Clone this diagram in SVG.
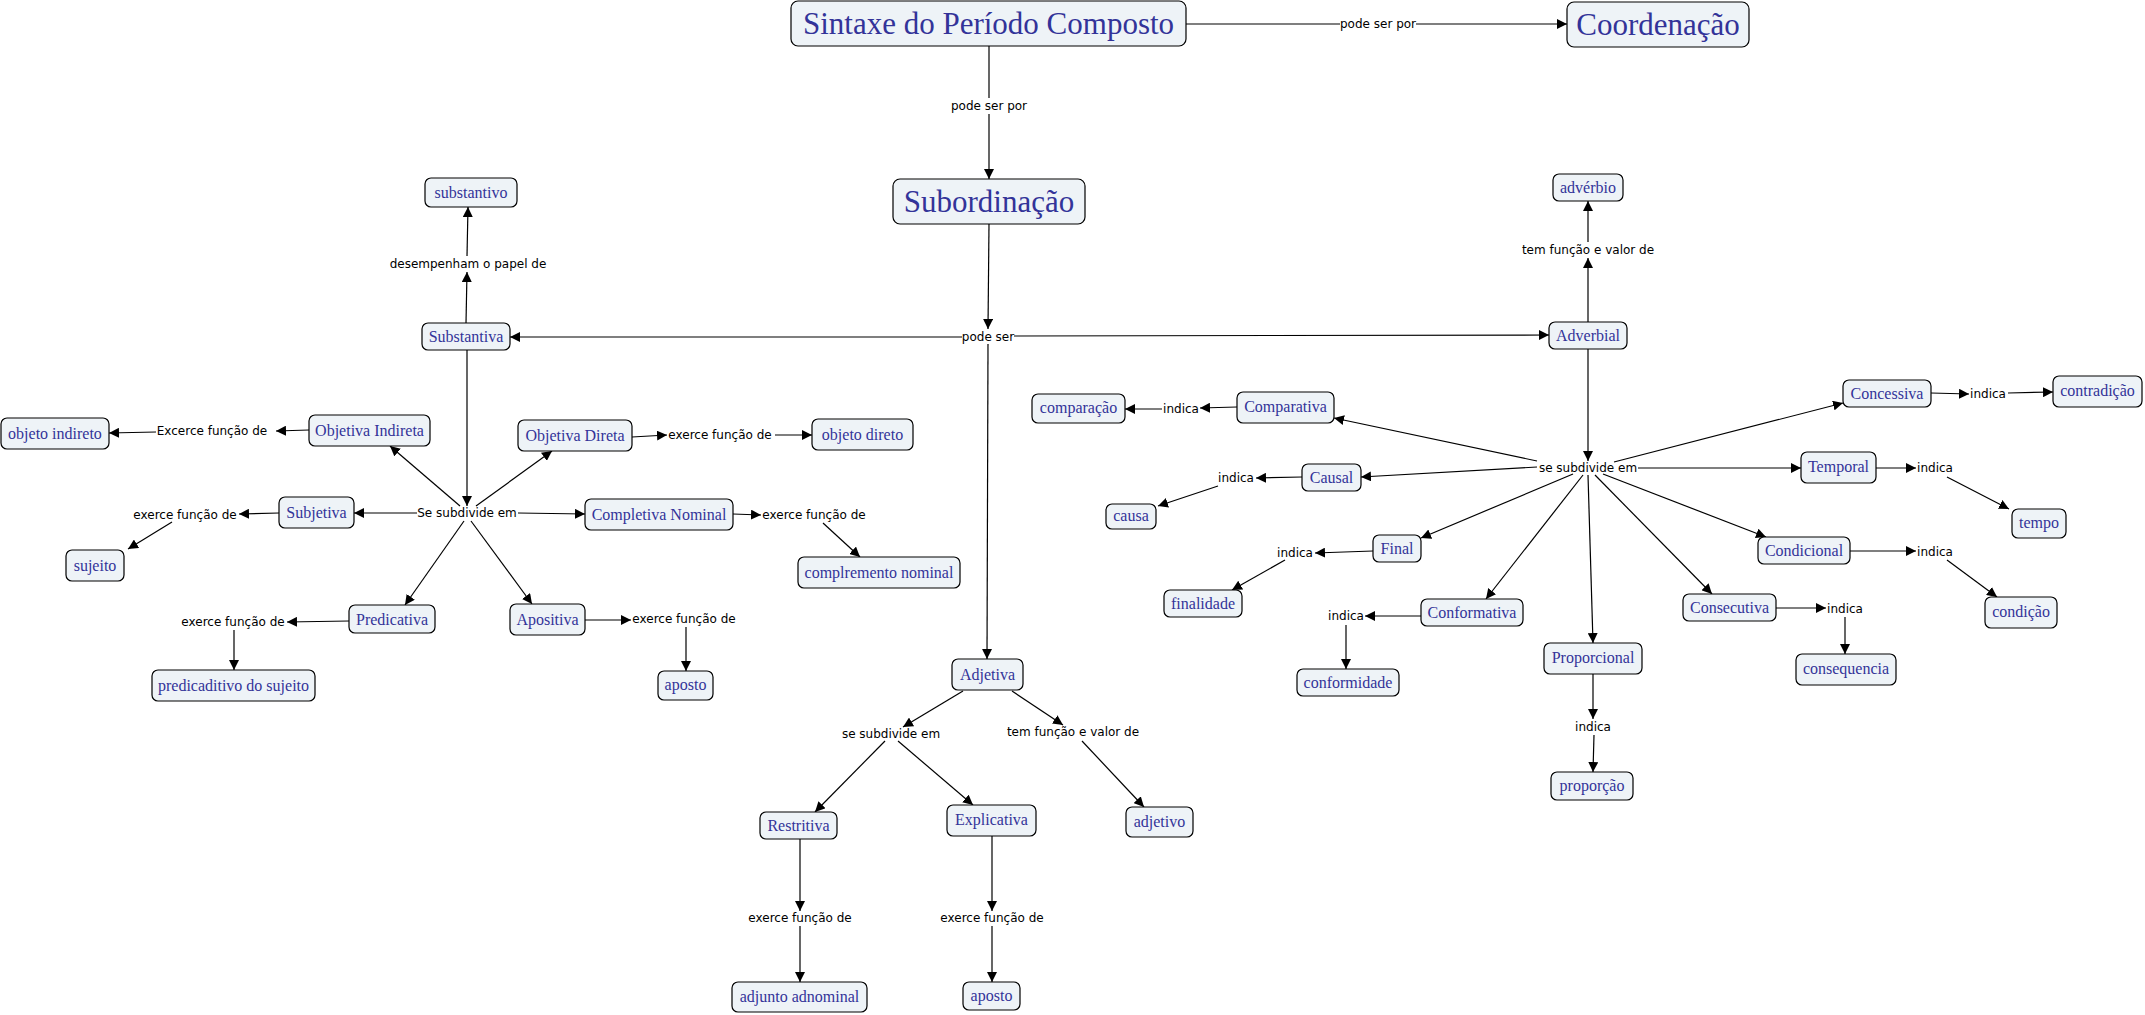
<svg xmlns="http://www.w3.org/2000/svg" width="2145" height="1015" viewBox="0 0 2145 1015">
<style>
.n rect{fill:#eef3f7;stroke:#000;stroke-width:1.2}
.n text{font-family:"Liberation Serif","Times New Roman",serif;font-size:16px;fill:#333399;text-anchor:middle}
.n.big text{font-size:31px}
.l{font-family:"DejaVu Sans",Verdana,sans-serif;font-size:12px;fill:#000;text-anchor:middle}
.c line{stroke:#000;stroke-width:1.2}
.c line.a{marker-end:url(#arr)}
</style>
<defs>
<marker id="arr" markerUnits="userSpaceOnUse" markerWidth="11" markerHeight="10" refX="10" refY="5" orient="auto">
<path d="M0,0 L10,5 L0,10 z" fill="#000"/>
</marker>
</defs>
<rect width="2145" height="1015" fill="#fff"/>
<g id="connectors" class="c">
<line x1="1186" y1="24" x2="1340" y2="24"/>
<line class="a" x1="1416" y1="24" x2="1567" y2="24"/>
<line x1="989" y1="46" x2="989" y2="98"/>
<line class="a" x1="989" y1="114" x2="989" y2="179"/>
<line class="a" x1="989" y1="224" x2="988" y2="329"/>
<line class="a" x1="962" y1="337" x2="510" y2="337"/>
<line class="a" x1="1014" y1="336" x2="1549" y2="335"/>
<line class="a" x1="988" y1="344" x2="987" y2="659"/>
<line class="a" x1="466" y1="323" x2="467" y2="272"/>
<line class="a" x1="467" y1="256" x2="468" y2="207"/>
<line class="a" x1="1588" y1="322" x2="1588" y2="258"/>
<line class="a" x1="1588" y1="242" x2="1588" y2="201"/>
<line class="a" x1="467" y1="350" x2="467" y2="506"/>
<line class="a" x1="460" y1="506" x2="390" y2="446"/>
<line class="a" x1="476" y1="506" x2="552" y2="451"/>
<line class="a" x1="417" y1="513" x2="354" y2="513"/>
<line class="a" x1="518" y1="513" x2="585" y2="514"/>
<line class="a" x1="464" y1="521" x2="405" y2="605"/>
<line class="a" x1="471" y1="521" x2="532" y2="604"/>
<line class="a" x1="309" y1="430" x2="276" y2="431"/>
<line class="a" x1="156" y1="432" x2="109" y2="433"/>
<line class="a" x1="632" y1="437" x2="667" y2="435"/>
<line class="a" x1="775" y1="435" x2="812" y2="435"/>
<line class="a" x1="279" y1="513" x2="239" y2="514"/>
<line class="a" x1="172" y1="522" x2="128" y2="549"/>
<line class="a" x1="733" y1="514" x2="761" y2="515"/>
<line class="a" x1="823" y1="523" x2="860" y2="557"/>
<line class="a" x1="349" y1="621" x2="287" y2="622"/>
<line class="a" x1="234" y1="630" x2="234" y2="670"/>
<line class="a" x1="585" y1="620" x2="631" y2="620"/>
<line class="a" x1="686" y1="627" x2="686" y2="671"/>
<line class="a" x1="963" y1="691" x2="903" y2="727"/>
<line class="a" x1="885" y1="741" x2="815" y2="812"/>
<line class="a" x1="898" y1="741" x2="973" y2="805"/>
<line class="a" x1="1012" y1="691" x2="1063" y2="725"/>
<line class="a" x1="1082" y1="741" x2="1144" y2="807"/>
<line class="a" x1="800" y1="838" x2="800" y2="911"/>
<line class="a" x1="800" y1="926" x2="800" y2="982"/>
<line class="a" x1="992" y1="836" x2="992" y2="911"/>
<line class="a" x1="992" y1="926" x2="992" y2="982"/>
<line class="a" x1="1588" y1="349" x2="1588" y2="461"/>
<line class="a" x1="1614" y1="462" x2="1843" y2="403"/>
<line class="a" x1="1537" y1="461" x2="1334" y2="418"/>
<line class="a" x1="1537" y1="467" x2="1361" y2="477"/>
<line class="a" x1="1638" y1="468" x2="1801" y2="468"/>
<line class="a" x1="1573" y1="474" x2="1421" y2="538"/>
<line class="a" x1="1583" y1="475" x2="1486" y2="599"/>
<line class="a" x1="1588" y1="475" x2="1593" y2="643"/>
<line class="a" x1="1595" y1="475" x2="1712" y2="594"/>
<line class="a" x1="1603" y1="474" x2="1766" y2="537"/>
<line class="a" x1="1931" y1="393" x2="1969" y2="394"/>
<line class="a" x1="2008" y1="393" x2="2053" y2="392"/>
<line class="a" x1="1237" y1="407" x2="1200" y2="408"/>
<line class="a" x1="1162" y1="409" x2="1125" y2="409"/>
<line class="a" x1="1302" y1="477" x2="1256" y2="478"/>
<line class="a" x1="1218" y1="486" x2="1158" y2="506"/>
<line class="a" x1="1876" y1="468" x2="1916" y2="468"/>
<line class="a" x1="1947" y1="477" x2="2009" y2="509"/>
<line class="a" x1="1373" y1="551" x2="1315" y2="553"/>
<line class="a" x1="1285" y1="560" x2="1232" y2="590"/>
<line class="a" x1="1850" y1="551" x2="1916" y2="551"/>
<line class="a" x1="1947" y1="560" x2="1997" y2="597"/>
<line class="a" x1="1421" y1="616" x2="1365" y2="616"/>
<line class="a" x1="1346" y1="625" x2="1346" y2="669"/>
<line class="a" x1="1776" y1="608" x2="1826" y2="608"/>
<line class="a" x1="1845" y1="617" x2="1845" y2="654"/>
<line class="a" x1="1593" y1="674" x2="1593" y2="719"/>
<line class="a" x1="1594" y1="735" x2="1593" y2="772"/>
</g>
<g id="labels">
<text class="l" x="1378" y="28">pode ser por</text>
<text class="l" x="989" y="110">pode ser por</text>
<text class="l" x="988" y="341">pode ser</text>
<text class="l" x="468" y="268">desempenham o papel de</text>
<text class="l" x="1588" y="254">tem função e valor de</text>
<text class="l" x="467" y="517">Se subdivide em</text>
<text class="l" x="212" y="435">Excerce função de</text>
<text class="l" x="720" y="439">exerce função de</text>
<text class="l" x="185" y="519">exerce função de</text>
<text class="l" x="814" y="519">exerce função de</text>
<text class="l" x="233" y="626">exerce função de</text>
<text class="l" x="684" y="623">exerce função de</text>
<text class="l" x="891" y="738">se subdivide em</text>
<text class="l" x="1073" y="736">tem função e valor de</text>
<text class="l" x="800" y="922">exerce função de</text>
<text class="l" x="992" y="922">exerce função de</text>
<text class="l" x="1588" y="472">se subdivide em</text>
<text class="l" x="1988" y="398">indica</text>
<text class="l" x="1181" y="413">indica</text>
<text class="l" x="1236" y="482">indica</text>
<text class="l" x="1935" y="472">indica</text>
<text class="l" x="1295" y="557">indica</text>
<text class="l" x="1935" y="556">indica</text>
<text class="l" x="1346" y="620">indica</text>
<text class="l" x="1845" y="613">indica</text>
<text class="l" x="1593" y="731">indica</text>
</g>
<g id="n-sintaxe" class="n big"><rect x="791" y="1" width="395" height="45" rx="7"/><text x="988.5" y="34">Sintaxe do Período Composto</text></g>
<g id="n-coordenacao" class="n big"><rect x="1567" y="2" width="182" height="45" rx="7"/><text x="1658" y="35">Coordenação</text></g>
<g id="n-subordinacao" class="n big"><rect x="893" y="179" width="192" height="45" rx="7"/><text x="989" y="212">Subordinação</text></g>
<g id="n-substantivo" class="n"><rect x="425" y="178" width="92" height="29" rx="6"/><text x="471" y="198">substantivo</text></g>
<g id="n-substantiva" class="n"><rect x="422" y="323" width="88" height="27" rx="6"/><text x="466" y="342">Substantiva</text></g>
<g id="n-adverbio" class="n"><rect x="1553" y="174" width="70" height="27" rx="6"/><text x="1588" y="193">advérbio</text></g>
<g id="n-adverbial" class="n"><rect x="1549" y="322" width="78" height="27" rx="6"/><text x="1588" y="341">Adverbial</text></g>
<g id="n-objeto-indireto" class="n"><rect x="1" y="418" width="108" height="31" rx="6"/><text x="55" y="439">objeto indireto</text></g>
<g id="n-objetiva-indireta" class="n"><rect x="309" y="415" width="121" height="31" rx="6"/><text x="369.5" y="436">Objetiva Indireta</text></g>
<g id="n-objetiva-direta" class="n"><rect x="518" y="420" width="114" height="31" rx="6"/><text x="575" y="441">Objetiva Direta</text></g>
<g id="n-objeto-direto" class="n"><rect x="812" y="419" width="101" height="31" rx="6"/><text x="862.5" y="440">objeto direto</text></g>
<g id="n-subjetiva" class="n"><rect x="279" y="497" width="75" height="31" rx="6"/><text x="316.5" y="518">Subjetiva</text></g>
<g id="n-sujeito" class="n"><rect x="66" y="550" width="58" height="31" rx="6"/><text x="95" y="571">sujeito</text></g>
<g id="n-completiva" class="n"><rect x="585" y="499" width="148" height="31" rx="6"/><text x="659" y="520">Completiva Nominal</text></g>
<g id="n-complemento" class="n"><rect x="798" y="557" width="162" height="31" rx="6"/><text x="879" y="578">complremento nominal</text></g>
<g id="n-predicativa" class="n"><rect x="349" y="605" width="86" height="28" rx="6"/><text x="392" y="625">Predicativa</text></g>
<g id="n-predicativo" class="n"><rect x="152" y="670" width="163" height="31" rx="6"/><text x="233.5" y="691">predicaditivo do sujeito</text></g>
<g id="n-apositiva" class="n"><rect x="510" y="604" width="75" height="31" rx="6"/><text x="547.5" y="625">Apositiva</text></g>
<g id="n-aposto1" class="n"><rect x="658" y="671" width="55" height="29" rx="6"/><text x="685.5" y="690">aposto</text></g>
<g id="n-adjetiva" class="n"><rect x="952" y="659" width="71" height="31" rx="6"/><text x="987.5" y="680">Adjetiva</text></g>
<g id="n-restritiva" class="n"><rect x="760" y="812" width="77" height="27" rx="6"/><text x="798.5" y="831">Restritiva</text></g>
<g id="n-explicativa" class="n"><rect x="947" y="805" width="89" height="31" rx="6"/><text x="991.5" y="825">Explicativa</text></g>
<g id="n-adjetivo" class="n"><rect x="1126" y="807" width="67" height="30" rx="6"/><text x="1159.5" y="827">adjetivo</text></g>
<g id="n-adjunto" class="n"><rect x="732" y="982" width="135" height="30" rx="6"/><text x="799.5" y="1002">adjunto adnominal</text></g>
<g id="n-aposto2" class="n"><rect x="963" y="982" width="57" height="28" rx="6"/><text x="991.5" y="1001">aposto</text></g>
<g id="n-concessiva" class="n"><rect x="1843" y="380" width="88" height="27" rx="6"/><text x="1887" y="399">Concessiva</text></g>
<g id="n-contradicao" class="n"><rect x="2053" y="376" width="89" height="31" rx="6"/><text x="2097.5" y="396">contradição</text></g>
<g id="n-comparacao" class="n"><rect x="1032" y="394" width="93" height="29" rx="6"/><text x="1078.5" y="413">comparação</text></g>
<g id="n-comparativa" class="n"><rect x="1237" y="392" width="97" height="31" rx="6"/><text x="1285.5" y="412">Comparativa</text></g>
<g id="n-causal" class="n"><rect x="1302" y="464" width="59" height="27" rx="6"/><text x="1331.5" y="483">Causal</text></g>
<g id="n-causa" class="n"><rect x="1106" y="504" width="50" height="25" rx="6"/><text x="1131" y="521">causa</text></g>
<g id="n-temporal" class="n"><rect x="1801" y="452" width="75" height="31" rx="6"/><text x="1838.5" y="472">Temporal</text></g>
<g id="n-tempo" class="n"><rect x="2012" y="509" width="54" height="29" rx="6"/><text x="2039" y="528">tempo</text></g>
<g id="n-final" class="n"><rect x="1373" y="535" width="48" height="27" rx="6"/><text x="1397" y="554">Final</text></g>
<g id="n-finalidade" class="n"><rect x="1164" y="590" width="78" height="27" rx="6"/><text x="1203" y="609">finalidade</text></g>
<g id="n-condicional" class="n"><rect x="1758" y="537" width="92" height="27" rx="6"/><text x="1804" y="556">Condicional</text></g>
<g id="n-condicao" class="n"><rect x="1985" y="597" width="72" height="31" rx="6"/><text x="2021" y="617">condição</text></g>
<g id="n-conformativa" class="n"><rect x="1421" y="599" width="102" height="27" rx="6"/><text x="1472" y="618">Conformativa</text></g>
<g id="n-conformidade" class="n"><rect x="1297" y="669" width="102" height="27" rx="6"/><text x="1348" y="688">conformidade</text></g>
<g id="n-consecutiva" class="n"><rect x="1683" y="594" width="93" height="27" rx="6"/><text x="1729.5" y="613">Consecutiva</text></g>
<g id="n-consequencia" class="n"><rect x="1796" y="654" width="100" height="31" rx="6"/><text x="1846" y="674">consequencia</text></g>
<g id="n-proporcional" class="n"><rect x="1544" y="643" width="98" height="31" rx="6"/><text x="1593" y="663">Proporcional</text></g>
<g id="n-proporcao" class="n"><rect x="1551" y="772" width="82" height="28" rx="6"/><text x="1592" y="791">proporção</text></g>
</svg>
